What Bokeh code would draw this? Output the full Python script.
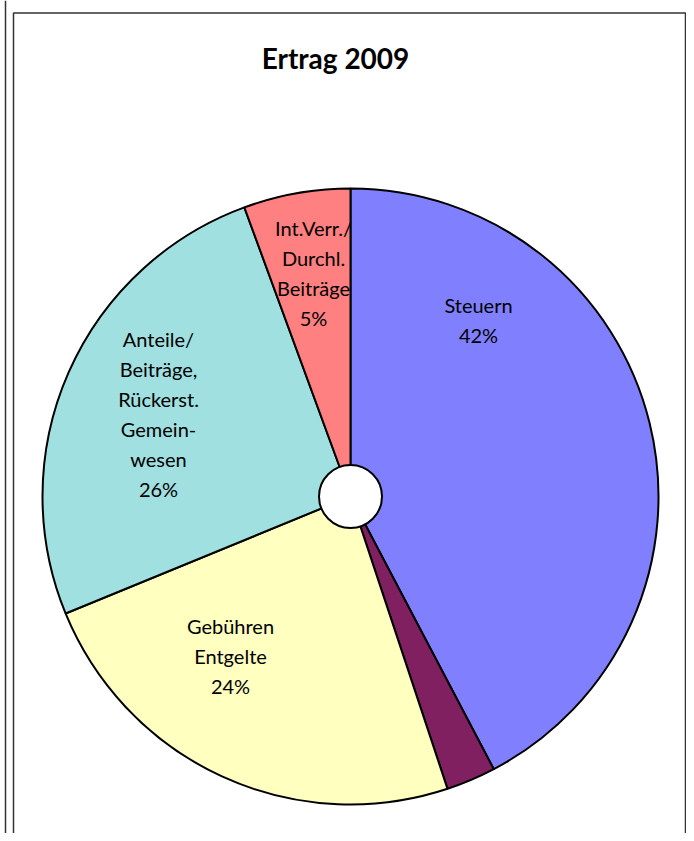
import math
from bokeh.plotting import figure
from bokeh.models import Range1d, ColumnDataSource
from bokeh.core.properties import value
from bokeh.embed import file_html
from bokeh.resources import INLINE

# ---- data ----
categories = ["Steuern", "Sonstige", "Gebühren Entgelte",
              "Anteile/Beiträge, Rückerst. Gemeinwesen",
              "Int.Verr./Durchl. Beiträge"]
shares = [42.3, 2.6, 23.9, 25.6, 5.6]
labels = ["Steuern\n42%", "", "Gebühren\nEntgelte\n24%",
          "Anteile/\nBeiträge,\nRückerst.\nGemein-\nwesen\n26%",
          "Int.Verr./\nDurchl.\nBeiträge\n5%"]
colors = ["#8080FF", "#802060", "#FFFFC0", "#A0E0E0", "#FF8080"]
title = "Ertrag 2009"

# ---- layout (screen pixels) ----
W, H = 686, 833
def Y(py):
    return H - py

cx, cy = 350, Y(496)
R = 308
r_hole = 31.5
label_dx = [128, 0, -120, -192, -37]
label_dy = [-177, 0, 159.5, -82.5, -224]

p = figure(width=W, height=H, output_backend="svg", toolbar_location=None,
           x_range=Range1d(0, W), y_range=Range1d(0, H),
           min_border=0)
p.axis.visible = False
p.grid.visible = False
p.outline_line_color = None
p.background_fill_color = "white"

# frame lines
p.line([5, 5], [Y(0), Y(845)], line_color="#333333", line_width=1.5)
p.line([13, 13, 685, 685], [Y(845), Y(12.5), Y(12.5), Y(845)],
       line_color="#333333", line_width=1.5)

total = sum(shares)
starts, ends = [], []
c = 0.0
for s in shares:
    starts.append(math.pi / 2 - 2 * math.pi * c / total)
    c += s
    ends.append(math.pi / 2 - 2 * math.pi * c / total)

src = ColumnDataSource(dict(x=[cx] * len(shares), y=[cy] * len(shares),
                            start=starts, end=ends, color=colors,
                            cat=categories))
p.wedge(x="x", y="y", radius=R, start_angle="start", end_angle="end",
        direction="clock", fill_color="color", line_color="black",
        line_width=2, source=src)
p.scatter([cx], [cy], size=2 * r_hole, marker="circle", fill_color="white",
          line_color="black", line_width=2)

lsrc = ColumnDataSource(dict(x=[cx + d for d in label_dx],
                             y=[cy - d for d in label_dy],
                             t=labels))
p.text(x="x", y="y", text="t", source=lsrc, text_align="center",
       text_baseline="middle", text_font=value("Lato"),
       text_font_size="20px", text_line_height=1.25, text_color="#000000")

p.text([335], [Y(57)], text=[title], text_align="center",
       text_baseline="middle", text_font=value("Lato"),
       text_font_size="28px", text_font_style="bold", text_color="#000000")

open("out.html", "w").write(file_html(p, INLINE))
